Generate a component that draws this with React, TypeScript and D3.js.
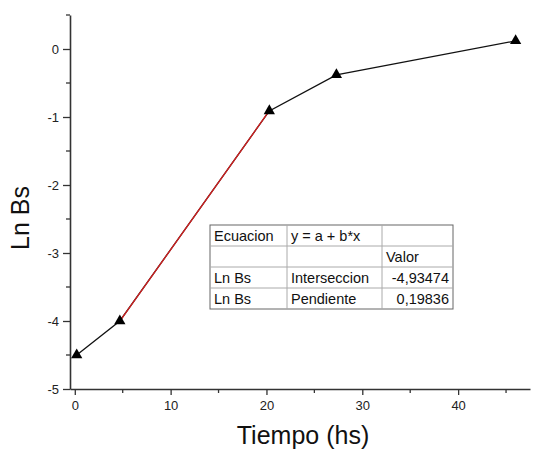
import { useRef, useEffect } from "react";
import * as d3 from "d3";

const tiempo = [0.2, 4.7, 20.3, 27.3, 46.0];
const lnBs = [-4.5, -4.0, -0.91, -0.38, 0.12];
const fitA = -4.93474;
const fitB = 0.19836;
const fitRange = [4.7, 20.3];
const xTicks = [0, 10, 20, 30, 40];
const yTicks = [-5, -4, -3, -2, -1, 0];
const tableRows = [
  ["Ecuacion", "y = a + b*x", ""],
  ["", "", "Valor"],
  ["Ln Bs", "Interseccion", "-4,93474"],
  ["Ln Bs", "Pendiente", "0,19836"],
];

const App = () => {
  const svgRef = useRef<SVGSVGElement>(null);

  useEffect(() => {
    const svg = d3.select(svgRef.current);
    svg.selectAll("*").remove();

    const width = 535;
    const height = 450;
    const axisColor = "#333";
    const font = "'Liberation Sans', Arial, sans-serif";

    const x = d3.scaleLinear().domain([-0.5, 47.5]).range([70, 530]);
    const y = d3.scaleLinear().domain([-5, 0.5]).range([389, 15]);

    svg.attr("width", width).attr("height", height);

    // y axis
    const yAxis = svg
      .append("g")
      .attr("transform", `translate(${x(-0.5)},0)`)
      .call(
        d3
          .axisLeft(y)
          .tickValues(yTicks)
          .tickSize(7)
          .tickSizeOuter(0)
          .tickPadding(4)
          .tickFormat((d) => String(d))
      );
    yAxis
      .selectAll(".minor")
      .data(d3.range(-4.5, 0.6, 1))
      .join("line")
      .attr("class", "minor")
      .attr("x1", -4)
      .attr("x2", 0)
      .attr("y1", (d) => y(d))
      .attr("y2", (d) => y(d));

    // x axis
    const xAxis = svg
      .append("g")
      .attr("transform", `translate(0,${y(-5)})`)
      .call(
        d3
          .axisBottom(x)
          .tickValues(xTicks)
          .tickSize(6)
          .tickSizeOuter(0)
          .tickPadding(6)
          .tickFormat((d) => String(d))
      );
    xAxis
      .selectAll(".minor")
      .data([5, 15, 25, 35, 45])
      .join("line")
      .attr("class", "minor")
      .attr("y1", 0)
      .attr("y2", 4)
      .attr("x1", (d) => x(d))
      .attr("x2", (d) => x(d));

    svg.selectAll(".domain").attr("stroke", axisColor).attr("stroke-width", 1.6);
    svg.selectAll(".tick line, .minor").attr("stroke", axisColor).attr("stroke-width", 1.3);
    svg
      .selectAll(".tick text")
      .attr("fill", "#222")
      .style("font-family", font)
      .style("font-size", "13px");

    // axis titles
    svg
      .append("text")
      .attr("transform", `translate(29,218) rotate(-90)`)
      .attr("text-anchor", "middle")
      .attr("fill", "#111")
      .style("font-family", font)
      .style("font-size", "25px")
      .text("Ln Bs");

    svg
      .append("text")
      .attr("x", 303)
      .attr("y", 444)
      .attr("text-anchor", "middle")
      .attr("fill", "#111")
      .style("font-family", font)
      .style("font-size", "25px")
      .text("Tiempo (hs)");

    const pts = tiempo.map((t, i) => [t, lnBs[i]] as [number, number]);

    const line = d3
      .line<[number, number]>()
      .x((d) => x(d[0]))
      .y((d) => y(d[1]));

    svg
      .append("path")
      .datum(pts)
      .attr("d", line)
      .attr("fill", "none")
      .attr("stroke", "#111")
      .attr("stroke-width", 1.3);

    // linear fit
    svg
      .append("path")
      .datum(fitRange.map((t) => [t, fitA + fitB * t] as [number, number]))
      .attr("d", line)
      .attr("fill", "none")
      .attr("stroke", "#d42020")
      .attr("stroke-width", 1.3);

    svg
      .selectAll(".pt")
      .data(pts)
      .join("path")
      .attr("class", "pt")
      .attr("transform", (d) => `translate(${x(d[0])},${y(d[1])})`)
      .attr("d", d3.symbol(d3.symbolTriangle, 55)())
      .attr("fill", "#000");

    // results table
    const colX = [210, 287, 382, 453];
    const rowY = [225, 246, 267, 288, 309];
    const tbl = svg.append("g");
    tbl
      .append("rect")
      .attr("x", colX[0])
      .attr("y", rowY[0])
      .attr("width", colX[3] - colX[0])
      .attr("height", rowY[4] - rowY[0])
      .attr("fill", "#fff")
      .attr("stroke", "#666")
      .attr("stroke-width", 1);
    rowY.slice(1, 4).forEach((ry) => {
      tbl
        .append("line")
        .attr("x1", colX[0])
        .attr("x2", colX[3])
        .attr("y1", ry)
        .attr("y2", ry)
        .attr("stroke", "#aaa");
    });
    colX.slice(1, 3).forEach((cx) => {
      tbl
        .append("line")
        .attr("x1", cx)
        .attr("x2", cx)
        .attr("y1", rowY[0])
        .attr("y2", rowY[4])
        .attr("stroke", "#aaa");
    });
    tableRows.forEach((row, r) => {
      row.forEach((cell, c) => {
        const right = c === 2 && r >= 2;
        tbl
          .append("text")
          .attr("x", right ? colX[c + 1] - 4 : colX[c] + 4)
          .attr("y", rowY[r] + 15.5)
          .attr("text-anchor", right ? "end" : "start")
          .attr("fill", "#111")
          .style("font-family", font)
          .style("font-size", "14.5px")
          .text(cell);
      });
    });
  }, []);

  return <svg ref={svgRef} style={{ position: "absolute", left: 0, top: 0 }}></svg>;
};

export default App;
